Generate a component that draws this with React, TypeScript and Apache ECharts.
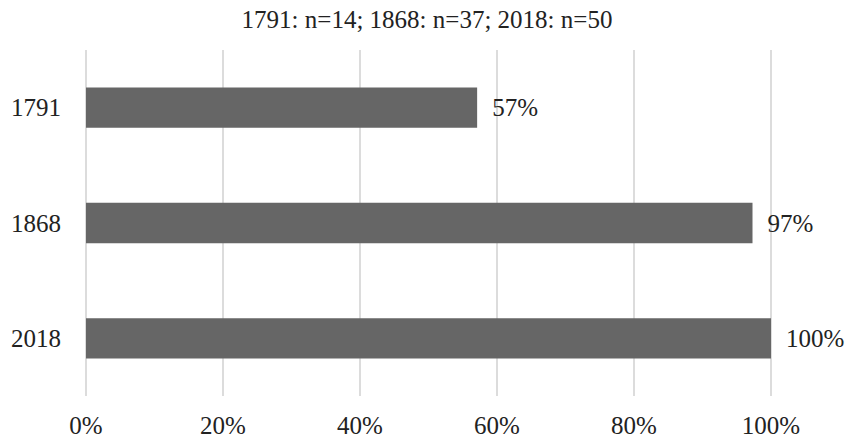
import React, { useEffect, useRef } from "react";
import * as echarts from "echarts";

const titleText = "1791: n=14; 1868: n=37; 2018: n=50";
const categories = ["1791", "1868", "2018"];
const values = [57.1, 97.3, 100];
const valueLabels = ["57%", "97%", "100%"];

export default function App() {
  const ref = useRef<HTMLDivElement>(null);
  useEffect(() => {
    if (!ref.current) return;
    const chart = echarts.init(ref.current, null, { renderer: "svg" });
    const font = "'Liberation Serif', 'DejaVu Serif', serif";
    chart.setOption({
      animation: false,
      title: {
        text: titleText,
        left: "center",
        top: 2,
        textStyle: { fontFamily: font, fontSize: 25, fontWeight: "normal", color: "#222" },
      },
      grid: { left: 86, right: 83, top: 50, bottom: 46, containLabel: false },
      xAxis: {
        type: "value",
        min: 0,
        max: 100,
        interval: 20,
        axisLine: { show: false },
        axisTick: { show: false },
        splitLine: { show: true, lineStyle: { color: "#d0d0d0", width: 1.5 } },
        axisLabel: {
          formatter: (v: number) => `${v}%`,
          fontFamily: font,
          fontSize: 25,
          color: "#222",
          margin: 17,
        },
      },
      yAxis: {
        type: "category",
        data: categories,
        inverse: true,
        axisLine: { show: false },
        axisTick: { show: false },
        axisLabel: { fontFamily: font, fontSize: 25, color: "#222", margin: 25 },
      },
      series: [
        {
          type: "bar",
          data: values,
          barWidth: "35%",
          itemStyle: { color: "#666666" },
          label: {
            show: true,
            position: "right",
            distance: 15,
            fontFamily: font,
            fontSize: 25,
            color: "#222",
            formatter: (p: any) => valueLabels[p.dataIndex],
          },
        },
      ],
    });
    return () => chart.dispose();
  }, []);
  return (
    <div
      ref={ref}
      style={{ position: "fixed", left: 0, top: 0, width: 854, height: 442, background: "#fff" }}
    />
  );
}
